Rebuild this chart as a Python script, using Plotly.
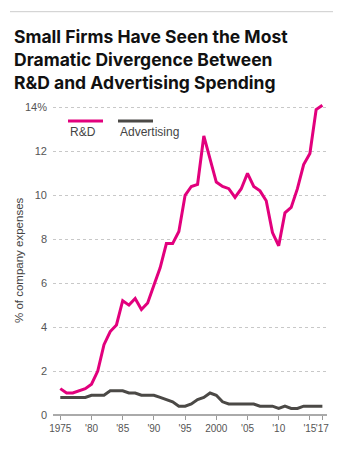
import plotly.graph_objects as go

years = list(range(1975, 2018))

rd_share = [1.2, 1.0, 1.0, 1.1, 1.2, 1.4, 2.0, 3.2, 3.8, 4.1,
            5.2, 5.0, 5.3, 4.8, 5.1, 5.9, 6.7, 7.8, 7.8, 8.35,
            10.0, 10.4, 10.5, 12.7, 11.6, 10.6, 10.4, 10.3, 9.9, 10.3,
            11.0, 10.4, 10.2, 9.75, 8.3, 7.7, 9.2, 9.45, 10.3, 11.4,
            11.9, 13.9, 14.1]

ad_share = [0.8, 0.8, 0.8, 0.8, 0.8, 0.9, 0.9, 0.9, 1.1, 1.1,
            1.1, 1.0, 1.0, 0.9, 0.9, 0.9, 0.8, 0.7, 0.6, 0.4,
            0.4, 0.5, 0.7, 0.8, 1.0, 0.9, 0.6, 0.5, 0.5, 0.5,
            0.5, 0.5, 0.4, 0.4, 0.4, 0.3, 0.4, 0.3, 0.3, 0.4,
            0.4, 0.4, 0.4]

x_tick_vals = [1975, 1980, 1985, 1990, 1995, 2000, 2005, 2010, 2015, 2017]
x_tick_text = ["1975", "'80", "'85", "'90", "'95", "2000", "'05", "'10", "'15", "'17"]
y_tick_vals = [0, 2, 4, 6, 8, 10, 12, 14]
y_tick_text = ["0", "2", "4", "6", "8", "10", "12", "14%"]

series_names = ["R&D", "Advertising"]
RD_COLOR = "#e2007d"
AD_COLOR = "#4b4946"
AXIS_FONT = "Liberation Sans, Arial, sans-serif"

# plot-area geometry in pixels (used to place paper-referenced extras)
W, H = 343, 449
ML, MR, MT, MB = 53, 16, 103, 34
PW, PH = W - ML - MR, H - MT - MB


def px_x(px):
    return (px - ML) / PW


def px_y(py):
    return (H - MB - py) / PH


fig = go.Figure()
fig.add_trace(go.Scatter(x=years, y=ad_share, mode="lines", name=series_names[1],
                         line=dict(color=AD_COLOR, width=3), hoverinfo="x+y"))
fig.add_trace(go.Scatter(x=years, y=rd_share, mode="lines", name=series_names[0],
                         line=dict(color=RD_COLOR, width=3), hoverinfo="x+y"))

fig.update_layout(
    width=W, height=H,
    margin=dict(l=ML, r=MR, t=MT, b=MB),
    paper_bgcolor="white", plot_bgcolor="white",
    showlegend=False,
    font=dict(family=AXIS_FONT, color="#555555", size=11),
)

fig.update_xaxes(
    range=[1973.83, 2017.74],
    tickvals=x_tick_vals, ticktext=x_tick_text, tickangle=0,
    showgrid=False, zeroline=False,
    showline=False,
    ticks="outside", ticklen=4, tickcolor="#999999", tickwidth=1,
    tickfont=dict(family=AXIS_FONT, size=10, color="#555555"),
)
fig.update_yaxes(
    range=[0, 14.2],
    tickvals=y_tick_vals, ticktext=y_tick_text,
    showgrid=True, gridcolor="#c8c8c8", griddash="dot", gridwidth=1,
    zeroline=True, zerolinecolor="#aaaaaa", zerolinewidth=1.5,
    ticks="", ticklabelstandoff=5,
    tickfont=dict(family=AXIS_FONT, size=11, color="#555555"),
)

# y-axis title
fig.add_annotation(text="% of company expenses", xref="paper", yref="paper",
                   x=px_x(19), y=px_y(260), textangle=-90,
                   xanchor="center", yanchor="middle", showarrow=False,
                   font=dict(family=AXIS_FONT, size=11.5, color="#444444"))

# top rule
fig.add_shape(type="line", xref="paper", yref="paper",
              x0=px_x(10), x1=px_x(333), y0=px_y(11.7), y1=px_y(11.7),
              line=dict(color="#cccccc", width=1))

# title
fig.add_annotation(
    text="<b>Small Firms Have Seen the Most<br>Dramatic Divergence Between<br>R&D and Advertising Spending</b>",
    xref="paper", yref="paper", x=px_x(12), y=px_y(24),
    xanchor="left", yanchor="top", align="left", showarrow=False,
    font=dict(family="Inter, Roboto, sans-serif", size=17.5, color="#111111"),
)

# legend keys drawn as short bars with labels below
legend_items = [(series_names[0], RD_COLOR, 68, 103), (series_names[1], AD_COLOR, 118, 153)]
for label, color, px0, px1 in legend_items:
    fig.add_shape(type="line", xref="paper", yref="paper",
                  x0=px_x(px0), x1=px_x(px1), y0=px_y(121), y1=px_y(121),
                  line=dict(color=color, width=3))
    fig.add_annotation(text=label, xref="paper", yref="paper",
                       x=px_x(px0), y=px_y(132),
                       xanchor="left", yanchor="middle", showarrow=False,
                       font=dict(family=AXIS_FONT, size=12, color="#444444"))

fig.write_html("out.html")
